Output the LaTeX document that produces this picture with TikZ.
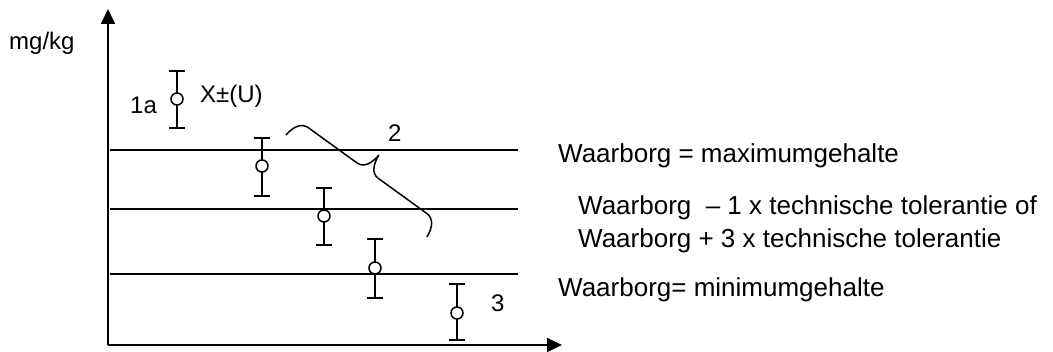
\documentclass[tikz,border=0pt]{standalone}
\usepackage{fontspec}
\setmainfont{Liberation Sans}
\usepackage{tikz}
\usetikzlibrary{arrows.meta}
\tikzset{
    axisline/.style={line width=1.8pt, -{Triangle[length=15pt, width=14pt]}},
    levelline/.style={line width=1.8pt},
    errbar/.style={line width=1.8pt, {Bar[width=16pt]}-{Bar[width=16pt]}},
    meanpt/.style={circle, draw, line width=1.5pt, fill=white, minimum size=12pt, inner sep=0pt},
    bracepath/.style={line width=1.5pt, line join=round},
    lbl/.style={font=\fontsize{24}{28}\selectfont, inner sep=0pt, anchor=base west},
    note/.style={font=\fontsize{26}{31}\selectfont, inner sep=0pt, anchor=base west}
}

\begin{document}
\begin{tikzpicture}[x=1pt, y=-1pt]
    \useasboundingbox (0,0) rectangle (1053,352);

    % Axes
    \coordinate (origin) at (108,345);
    \coordinate (ytop) at (108,9);
    \coordinate (xend) at (562,345);
    \draw[axisline] (origin) -- (ytop);
    \draw[axisline] (origin) -- (xend);
    \node[lbl] (unit) at (9,50) {mg/kg};

    % Levels
    \draw[levelline] (110,150) -- (518,150);
    \draw[levelline] (110,209) -- (518,209);
    \draw[levelline] (110,274) -- (518,274);

    % Results with uncertainty
    \draw[errbar] (177,70) -- (177,129);
    \node[meanpt] (m1) at (177,99) {};
    \draw[errbar] (262,137) -- (262,197);
    \node[meanpt] (m2) at (262,166) {};
    \draw[errbar] (324,187) -- (324,246);
    \node[meanpt] (m3) at (324,216) {};
    \draw[errbar] (375,238) -- (375,299);
    \node[meanpt] (m4) at (375,268) {};
    \draw[errbar] (457,283) -- (457,341);
    \node[meanpt] (m5) at (457,313) {};

    \node[lbl] (case1a) at (130,114) {1a};
    \node[lbl] (xu) at (200,103) {X±(U)};
    \node[lbl] (case2) at (388,142) {2};
    \node[lbl] (case3) at (491,312) {3};

    % Brace for case 2
    \begin{scope}[shift={(286,135)}, rotate=-35.9]
        \draw[bracepath] (0,0) .. controls (1,-12) and (6,-19) .. (14,-19) -- (74,-19)
            .. controls (82,-19) and (86,-27) .. (87,-38)
            .. controls (88,-27) and (92,-19) .. (100,-19) -- (160,-19)
            .. controls (168,-19) and (173,-12) .. (174,0);
    \end{scope}

    % Notes
    \node[note] (maxg) at (558,163) {Waarborg = maximumgehalte};
    \node[note] (tol1) at (578,215) {Waarborg~~– 1 x technische tolerantie of};
    \node[note] (tol2) at (578,248) {Waarborg + 3 x technische tolerantie};
    \node[note] (ming) at (558,297) {Waarborg= minimumgehalte};
\end{tikzpicture}
\end{document}
